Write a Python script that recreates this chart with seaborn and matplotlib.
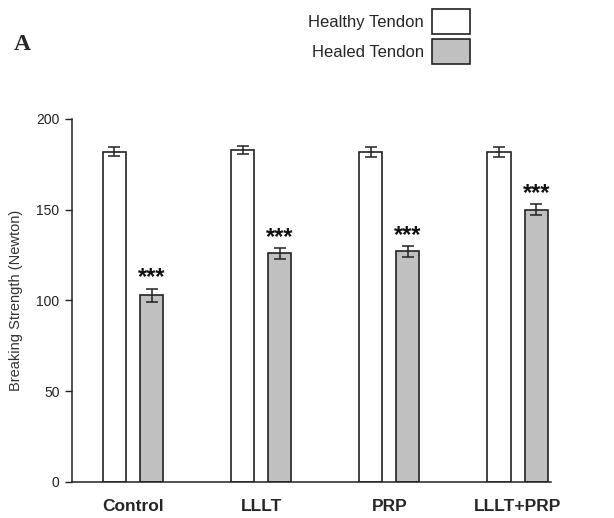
import numpy as np
import pandas as pd
import seaborn as sns
import matplotlib
matplotlib.use("Agg")
import matplotlib.pyplot as plt
from matplotlib.patches import Patch

groups = ["Control", "LLLT", "PRP", "LLLT+PRP"]
tendons = ["Healthy Tendon", "Healed Tendon"]
healthy = [182, 183, 182, 182]
healthy_err = [2.6, 2.3, 2.8, 2.8]
healed = [103, 126, 127, 150]
healed_err = [3.6, 3.0, 3.2, 3.0]
stars = "***"

colors = {"Healthy Tendon": "white", "Healed Tendon": "#c0c0c0"}

def main():
  df = pd.DataFrame({
    "group": groups * 2,
    "tendon": [tendons[0]] * 4 + [tendons[1]] * 4,
    "value": healthy + healed,
  })
  errs = {tendons[0]: healthy_err, tendons[1]: healed_err}

  sns.set_style("white")
  plt.rcParams["font.family"] = ["Liberation Sans", "DejaVu Sans"]

  fig = plt.figure(figsize=(6.14, 5.18), dpi=100)
  ax = fig.add_axes([0.1173, 0.0695, 0.780, 0.7008])

  sns.barplot(data=df, x="group", y="value", hue="tendon", order=groups,
              hue_order=tendons, palette=colors, width=0.58, gap=0.38,
              edgecolor="#222222", linewidth=1.2, errorbar=None,
              legend=False, ax=ax)

  # error bars + significance stars from the drawn bars
  for tendon, cont in zip(tendons, ax.containers):
    for bar, v, e in zip(cont.patches, df[df.tendon == tendon]["value"], errs[tendon]):
      xc = bar.get_x() + bar.get_width() / 2
      ax.errorbar(xc, v, yerr=e, color="#222222", capsize=4.5, elinewidth=1.1,
                  capthick=1.1)
      if tendon == "Healed Tendon":
        ax.text(xc, v + e - 0.5, stars, ha="center", va="bottom",
                fontsize=17, fontweight="bold", color="#111111")

  ax.set_xlim(-0.475, 3.26)
  ax.set_ylim(0, 200)
  ax.set_yticks([0, 50, 100, 150, 200])
  ax.tick_params(axis="y", direction="out", length=5, width=1, left=True,
                 labelsize=10, colors="#222222", pad=4)
  ax.tick_params(axis="x", length=0, pad=12)
  for lbl in ax.get_xticklabels():
    lbl.set_fontweight("bold")
    lbl.set_fontsize(12.5)
  ax.set_xlabel("")
  ax.set_ylabel("Breaking Strength (Newton)", fontsize=10.5, color="#333333")
  ax.yaxis.set_label_coords(-0.102, 0.5)
  sns.despine(ax=ax)
  for s in ["left", "bottom"]:
    ax.spines[s].set_color("#222222")
    ax.spines[s].set_linewidth(1.1)

  handles = [Patch(facecolor=colors[t], edgecolor="#222222", linewidth=1.2)
             for t in tendons]
  fig.legend(handles, tendons, loc="upper right", bbox_to_anchor=(0.79, 1.012),
             frameon=False, markerfirst=False, fontsize=12,
             handlelength=2.3, handleheight=1.95, labelspacing=0.3,
             handletextpad=0.45)

  fig.text(0.022, 0.903, "A", fontsize=17, fontweight="bold",
           family="Liberation Serif")

  fig.savefig("out.png", dpi=100)

if __name__ == "__main__":
  main()
